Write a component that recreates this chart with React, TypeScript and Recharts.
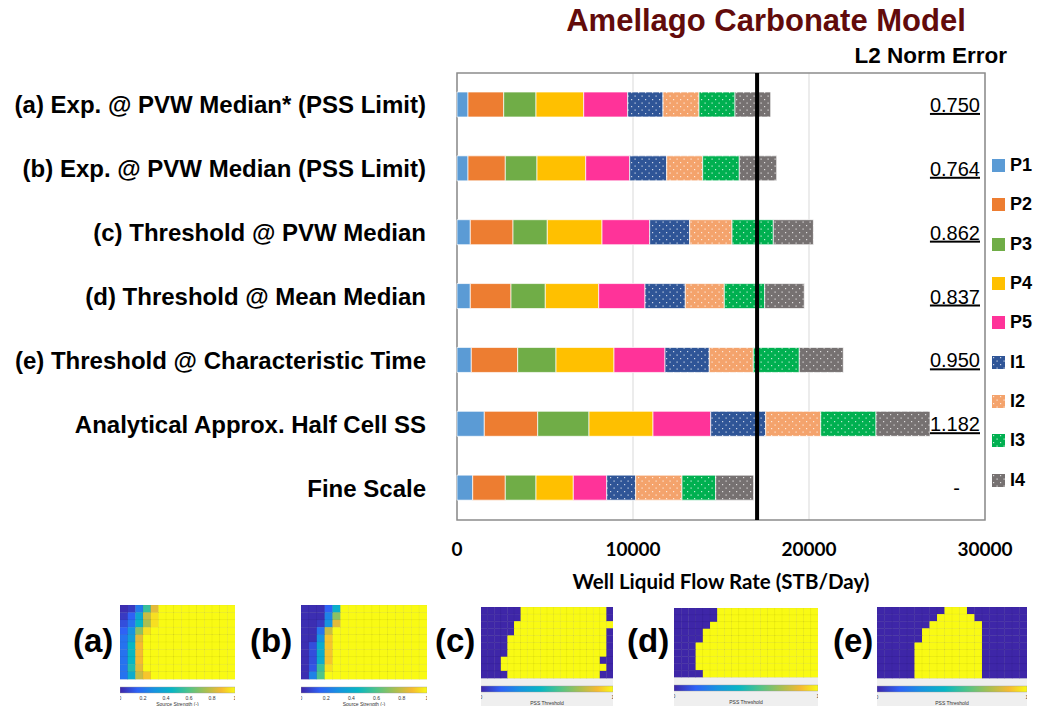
import React from 'react';
import {
  BarChart, Bar, XAxis, YAxis, CartesianGrid, Legend, ReferenceLine, ReferenceArea,
} from 'recharts';

// ─── Data ───
const categories = [
  '(a) Exp. @ PVW Median* (PSS Limit)',
  '(b) Exp. @ PVW Median (PSS Limit)',
  '(c) Threshold @ PVW Median',
  '(d) Threshold @ Mean Median',
  '(e) Threshold @ Characteristic Time',
  'Analytical Approx. Half Cell SS',
  'Fine Scale',
];

const P1 = [625, 625, 756, 756, 813, 1551, 892];
const P2 = [2028, 2120, 2426, 2312, 2636, 3034, 1852];
const P3 = [1836, 1800, 1949, 1949, 2176, 2915, 1745];
const P4 = [2710, 2767, 3108, 3034, 3295, 3636, 2119];
const P5 = [2500, 2500, 2710, 2631, 2898, 3279, 1898];
const I1 = [2006, 2103, 2271, 2290, 2517, 3125, 1647];
const I2 = [2045, 2045, 2405, 2216, 2500, 3125, 2631];
const I3 = [2045, 2080, 2347, 2295, 2614, 3142, 1915];
const I4 = [2029, 2125, 2278, 2250, 2500, 3068, 2159];

const l2Errors = ['0.750', '0.764', '0.862', '0.837', '0.950', '1.182', '-'];

const xTicks = [0, 10000, 20000, 30000];
const fineScaleLine = 17050;

const series = [
  { key: 'P1', values: P1, color: '#5B9BD5', dotted: false },
  { key: 'P2', values: P2, color: '#ED7D31', dotted: false },
  { key: 'P3', values: P3, color: '#70AD47', dotted: false },
  { key: 'P4', values: P4, color: '#FFC000', dotted: false },
  { key: 'P5', values: P5, color: '#FF3399', dotted: false },
  { key: 'I1', values: I1, color: '#2F5597', dotted: true },
  { key: 'I2', values: I2, color: '#F4A36C', dotted: true },
  { key: 'I3', values: I3, color: '#00B050', dotted: true },
  { key: 'I4', values: I4, color: '#767171', dotted: true },
];

// ─── Thumbnail maps (source strength / PSS threshold) ───
const heatA = [
  [0.02, 0.05, 0.22, 0.55, 0.85],
  [0.05, 0.15, 0.38, 0.8, 0.95],
  [0.1, 0.2, 0.45, 0.75, 0.95],
  [0.15, 0.3, 0.7, 0.95],
  [0.2, 0.35, 0.85],
  [0.2, 0.45, 0.88],
  [0.2, 0.45, 0.88],
  [0.2, 0.45, 0.88],
  [0.2, 0.5, 0.85],
  [0.2, 0.4, 0.8, 0.9],
];
const heatB = [
  [0.02, 0.02, 0.02, 0.15, 0.42],
  [0.02, 0.02, 0.02, 0.25, 0.7],
  [0.02, 0.02, 0.05, 0.3, 0.85],
  [0.02, 0.02, 0.2, 0.8],
  [0.02, 0.02, 0.3, 0.9],
  [0.02, 0.1, 0.4, 0.9],
  [0.02, 0.1, 0.4, 0.9],
  [0.02, 0.1, 0.4, 0.9],
  [0.02, 0.12, 0.55, 0.95],
  [0.02, 0.25, 0.6],
];
const threshC = [[6, 19], [6, 19], [5, 20], [5, 19], [4, 19], [4, 19], [4, 19], [3, 18], [3, 19], [4, 18]];
const threshD = [[6, 20], [6, 20], [5, 20], [4, 20], [4, 20], [3, 20], [3, 20], [3, 20], [3, 20], [4, 20]];
const threshE = [[9, 12], [8, 13], [7, 14], [6, 14], [6, 14], [5, 14], [5, 14], [5, 14], [5, 14], [5, 14]];

const sourceTicks = ['0', '0.2', '0.4', '0.6', '0.8', '1'];
const pssTicks = ['0', '1'];

const parula = [
  [0, 62, 38, 168], [0.15, 46, 98, 246], [0.3, 22, 148, 224], [0.45, 8, 182, 196],
  [0.6, 80, 196, 136], [0.75, 170, 191, 80], [0.88, 245, 186, 50], [1, 249, 250, 20],
];

const parulaColor = (v: number) => {
  for (let i = 1; i < parula.length; i++) {
    if (v <= parula[i][0]) {
      const a = parula[i - 1], b = parula[i];
      const t = (v - a[0]) / (b[0] - a[0]);
      const c = [1, 2, 3].map(k => Math.round(a[k] + (b[k] - a[k]) * t));
      return `rgb(${c[0]},${c[1]},${c[2]})`;
    }
  }
  return 'rgb(249,250,20)';
};

const heatGrid = (rows: number[][], cols: number) =>
  rows.map(r => Array.from({ length: cols }, (_, i) => (i < r.length ? r[i] : 1)));
const threshGrid = (rows: number[][], cols: number) =>
  rows.map(([s, e]) => Array.from({ length: cols }, (_, i) => (i >= s && i < e ? 1 : 0)));

const chartData = categories.map((name, i) => {
  const row: Record<string, any> = { name };
  series.forEach(s => { row[s.key] = s.values[i]; });
  return row;
});

const fillFor = (s: typeof series[number]) => (s.dotted ? `url(#dots-${s.key})` : s.color);

// ─── Ticks ───
const L2Tick = (props: any) => {
  const { x, y, payload } = props;
  const v = l2Errors[payload.index];
  const dash = v === '-';
  return (
    <text
      x={dash ? x - 20 : x}
      y={y}
      dy="0.35em"
      textAnchor="end"
      fontSize={20}
      fontFamily="'Liberation Sans', Arial, sans-serif"
      fill="#000"
      textDecoration={dash ? 'none' : 'underline'}
    >
      {v}
    </text>
  );
};

const LegendContent = () => (
  <div style={{ fontFamily: "'Liberation Sans', Arial, sans-serif" }}>
    {series.map(s => (
      <div key={s.key} style={{ height: 39.3, display: 'flex', alignItems: 'center' }}>
        <svg width={13} height={13} style={{ marginLeft: 7, marginRight: 5 }}>
          <rect width={13} height={13} fill={fillFor(s)} />
        </svg>
        <span style={{ fontSize: 18, fontWeight: 'bold', color: '#000' }}>{s.key}</span>
      </div>
    ))}
  </div>
);

// ─── Thumbnail ───
const Thumb = ({ label, labelX, x, y, w, h, grid, panel, ticks, caption }: {
  label: string; labelX: number; x: number; y: number; w: number; h: number;
  grid: number[][]; panel: boolean; ticks: string[]; caption: string;
}) => {
  const rows = grid.length, cols = grid[0].length;
  const cw = w / cols, ch = h / rows;
  const gradId = `grad-${label}`;
  return (
    <>
      <div style={{
        position: 'absolute', left: labelX, top: 622, fontSize: 33, fontWeight: 'bold',
        fontFamily: "'Liberation Sans', Arial, sans-serif", color: '#000',
      }}>{`(${label})`}</div>
      <svg style={{ position: 'absolute', left: x, top: y }} width={w} height={706 - y}>
        <defs>
          <linearGradient id={gradId} x1="0" x2="1" y1="0" y2="0">
            {parula.map(p => <stop key={p[0]} offset={p[0]} stopColor={`rgb(${p[1]},${p[2]},${p[3]})`} />)}
          </linearGradient>
        </defs>
        {panel && <rect x={0} y={h} width={w} height={706 - y - h} fill="#efefef" />}
        {grid.map((r, ri) => r.map((v, ci) => (
          <rect key={`${ri}-${ci}`} x={ci * cw} y={ri * ch} width={cw + 0.3} height={ch + 0.3}
            fill={parulaColor(v)} stroke="rgba(0,0,0,0.07)" strokeWidth={0.6} />
        )))}
        <rect x={0} y={h + 8} width={w} height={6} fill={`url(#${gradId})`} stroke="#999" strokeWidth={0.4} />
        {ticks.map((t, i) => (
          <text key={t} x={ticks.length > 1 ? (i * w) / (ticks.length - 1) : 0} y={h + 21}
            fontSize={5} fontFamily="'Liberation Sans', Arial" textAnchor="middle" fill="#333">{t}</text>
        ))}
        <text x={w / 2} y={h + 27} fontSize={5} fontFamily="'Liberation Sans', Arial" textAnchor="middle" fill="#333">
          {caption}
        </text>
      </svg>
    </>
  );
};

export default function App() {
  return (
    <div style={{ position: 'absolute', left: 0, top: 0, width: 1037, height: 706, background: '#fff', overflow: 'hidden' }}>
      <svg width={0} height={0} style={{ position: 'absolute' }}>
        <defs>
          {series.filter(s => s.dotted).map(s => (
            <pattern key={s.key} id={`dots-${s.key}`} width={7} height={7} patternUnits="userSpaceOnUse">
              <rect width={7} height={7} fill={s.color} />
              <rect x={1} y={1} width={1.2} height={1.2} fill="#fff" fillOpacity={0.75} />
              <rect x={4.5} y={4.5} width={1.2} height={1.2} fill="#fff" fillOpacity={0.75} />
            </pattern>
          ))}
        </defs>
      </svg>

      <div style={{
        position: 'absolute', left: 546, top: 3, width: 440, textAlign: 'center', whiteSpace: 'nowrap',
        fontFamily: "'Liberation Sans', Arial, sans-serif", fontWeight: 'bold', fontSize: 31, color: '#620B0B',
      }}>Amellago Carbonate Model</div>
      <div style={{
        position: 'absolute', right: 30, top: 43, whiteSpace: 'nowrap',
        fontFamily: "'Liberation Sans', Arial, sans-serif", fontWeight: 'bold', fontSize: 22.5, color: '#000',
      }}>L2 Norm Error</div>

      <div style={{ position: 'absolute', left: 0, top: 0 }}>
        <BarChart
          width={1037}
          height={610}
          data={chartData}
          layout="vertical"
          margin={{ top: 73, right: 0, bottom: 0, left: 0 }}
          barSize={25}
        >
          <CartesianGrid horizontal={false} stroke="#d9d9d9" />
          <XAxis
            type="number"
            domain={[0, 30000]}
            ticks={xTicks}
            height={90}
            tickLine={false}
            axisLine={false}
            tickSize={0}
            tickMargin={23}
            tick={{ fill: '#000', fontSize: 19, fontWeight: 'bold', fontFamily: 'Lato, sans-serif' }}
            label={{
              value: 'Well Liquid Flow Rate (STB/Day)', position: 'insideBottom', offset: 21,
              style: { fill: '#000', fontSize: 20.5, fontWeight: 'bold', fontFamily: 'Lato, sans-serif' },
            }}
          />
          <YAxis
            type="category"
            dataKey="name"
            width={457}
            interval={0}
            tickLine={false}
            axisLine={false}
            tickSize={0}
            tickMargin={31}
            tick={{ fill: '#000', fontSize: 24, fontWeight: 'bold', fontFamily: "'Liberation Sans', Arial, sans-serif" }}
          />
          <YAxis
            yAxisId="l2"
            orientation="right"
            type="category"
            dataKey="name"
            mirror
            interval={0}
            tickLine={false}
            axisLine={false}
            tickSize={0}
            tickMargin={5}
            tick={<L2Tick />}
          />
          <Legend
            layout="vertical"
            align="right"
            verticalAlign="top"
            wrapperStyle={{ left: 985, top: 146, width: 52 }}
            content={LegendContent}
          />
          {series.map(s => (
            <Bar
              key={s.key}
              dataKey={s.key}
              stackId="flow"
              fill={fillFor(s)}
              stroke="#ffffff"
              strokeWidth={0.7}
              isAnimationActive={false}
            />
          ))}
          <ReferenceArea x1={0} x2={30000} fill="none" stroke="#8c8c8c" strokeWidth={1.5} ifOverflow="visible" />
          <ReferenceLine x={fineScaleLine} stroke="#000" strokeWidth={4} />
        </BarChart>
      </div>

      <Thumb label="a" labelX={73} x={120} y={605} w={115} h={74} grid={heatGrid(heatA, 15)} panel={false}
        ticks={sourceTicks} caption="Source Strength (-)" />
      <Thumb label="b" labelX={250} x={301} y={605} w={126} h={74} grid={heatGrid(heatB, 16)} panel={false}
        ticks={sourceTicks} caption="Source Strength (-)" />
      <Thumb label="c" labelX={435} x={481} y={607} w={132} h={71} grid={threshGrid(threshC, 20)} panel
        ticks={pssTicks} caption="PSS Threshold" />
      <Thumb label="d" labelX={627} x={674} y={608} w={144} h={69} grid={threshGrid(threshD, 20)} panel
        ticks={pssTicks} caption="PSS Threshold" />
      <Thumb label="e" labelX={833} x={877} y={607} w={150} h={71} grid={threshGrid(threshE, 20)} panel
        ticks={pssTicks} caption="PSS Threshold" />
    </div>
  );
}
